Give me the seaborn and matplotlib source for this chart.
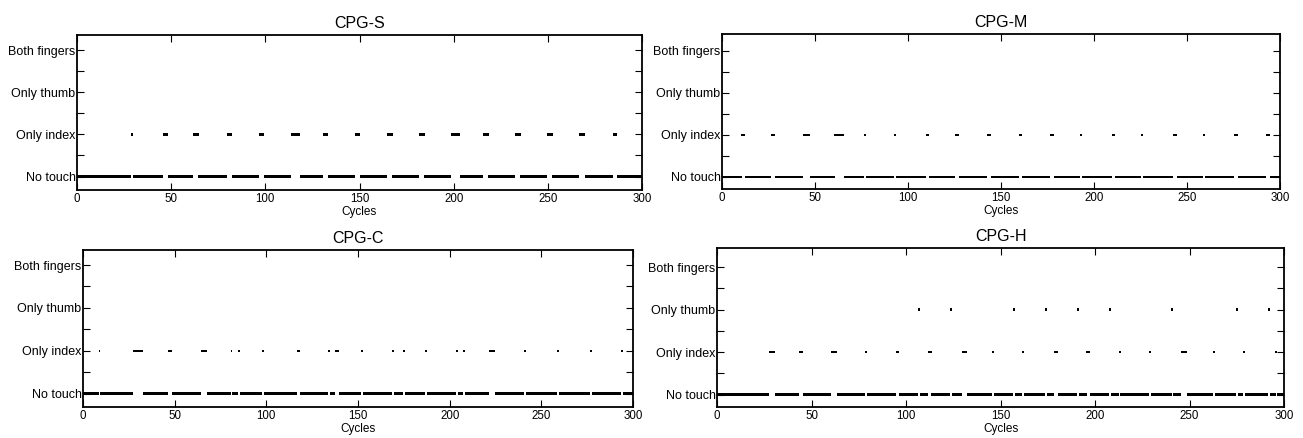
import numpy as np
import pandas as pd
import matplotlib
matplotlib.use("Agg")
import matplotlib.pyplot as plt
import seaborn as sns

# ---- data -------------------------------------------------------------
titles = ["CPG-S", "CPG-M", "CPG-C", "CPG-H"]
state_labels = ["No touch", "Only index", "Only thumb", "Both fingers"]
x_ticks = [0, 50, 100, 150, 200, 250, 300]
cycles = np.arange(0, 301)

# cycles where only the index finger touches
s_index = [29, 46, 47, 48, 62, 63, 64, 80, 81, 82, 97, 98, 99,
           114, 115, 116, 117, 118, 131, 132, 133, 148, 149, 150,
           165, 166, 167, 182, 183, 184, 199, 200, 201, 202, 203,
           216, 217, 218, 233, 234, 235, 250, 251, 252, 267, 268, 269,
           285, 286]
s_thumb = []

m_index = [11, 12, 27, 28, 44, 45, 46, 47, 61, 62, 63, 64, 65, 77, 93,
           110, 111, 126, 127, 143, 144, 160, 161, 177, 178, 193,
           210, 211, 226, 243, 244, 259, 276, 277, 293, 294]
m_thumb = []

c_index = [9, 28, 29, 30, 31, 32, 47, 48, 65, 66, 67, 81, 85, 98,
           117, 118, 134, 138, 139, 152, 169, 175, 187, 204, 208,
           222, 223, 224, 241, 259, 277, 294]
c_thumb = []

h_index = [28, 29, 30, 44, 45, 61, 62, 63, 79, 95, 96, 112, 113,
           130, 131, 132, 146, 162, 179, 180, 196, 197, 213, 229,
           246, 247, 248, 263, 279, 296]
h_thumb = [107, 124, 157, 174, 191, 208, 241, 275, 292]

index_lists = [s_index, m_index, c_index, h_index]
thumb_lists = [s_thumb, m_thumb, c_thumb, h_thumb]

# ---- layout (pixels) --------------------------------------------------
W, H = 1303, 438
boxes = [(77, 35, 642, 190), (722, 34, 1280, 189),
         (83, 250, 633, 407), (717, 248, 1284, 407)]
ylims = [(-0.32, 3.36), (-0.29, 3.40), (-0.31, 3.35), (-0.29, 3.45)]

sns.set_theme(style="white")
plt.rcParams['font.family'] = ['Liberation Sans', 'DejaVu Sans']
plt.rcParams['text.color'] = 'black'
plt.rcParams['axes.labelcolor'] = 'black'
plt.rcParams['xtick.color'] = 'black'
plt.rcParams['ytick.color'] = 'black'

fig = plt.figure(figsize=(W / 100, H / 100), dpi=100)

marker_path = [(-0.4, -0.5), (0.4, -0.5), (0.4, 0.5), (-0.4, 0.5), (-0.4, -0.5)]

for i in range(4):
    x0, y0, x1, y1 = boxes[i]
    ax = fig.add_axes([x0 / W, 1 - y1 / H, (x1 - x0) / W, (y1 - y0) / H])
    state = np.zeros(len(cycles), dtype=int)
    state[np.isin(cycles, index_lists[i])] = 1
    state[np.isin(cycles, thumb_lists[i])] = 2
    df = pd.DataFrame({"Cycle": cycles, "State": state})
    sns.scatterplot(data=df, x="Cycle", y="State", ax=ax, color="black",
                    marker=marker_path, s=3.2, linewidth=0, edgecolor="none",
                    legend=False)
    ax.set_xlim(0, 300)
    ax.set_ylim(*ylims[i])
    ax.set_xticks(x_ticks)
    ax.set_xticklabels([str(t) for t in x_ticks], fontsize=8.3)
    yt = [0, 0.5, 1, 1.5, 2, 2.5, 3]
    ax.set_yticks(yt)
    ax.set_yticklabels([state_labels[0], "", state_labels[1], "",
                        state_labels[2], "", state_labels[3]], fontsize=9)
    ax.tick_params(direction="in", length=5, width=0.8, color="black",
                   top=True, right=True, bottom=True, left=True, pad=2)
    ax.tick_params(axis="y", pad=1)
    for sp in ax.spines.values():
        sp.set_color("black")
        sp.set_linewidth(1.3)
        sp.set_visible(True)
    ax.set_xlabel("Cycles", fontsize=8.5, labelpad=1)
    ax.set_ylabel("")
    ax.set_title(titles[i], fontsize=11.5, pad=5)
    ax.grid(False)
    ax.set_facecolor("white")

fig.savefig("out.png", dpi=100, facecolor="white")
